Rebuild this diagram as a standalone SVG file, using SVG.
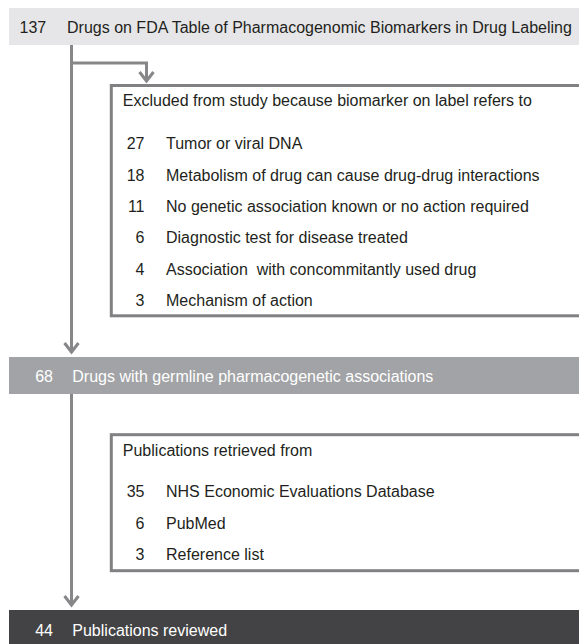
<svg xmlns="http://www.w3.org/2000/svg" width="579" height="644" viewBox="0 0 579 644">
<style>
text{font-family:"Liberation Sans",Arial,sans-serif;font-size:16px;fill:#231f20;white-space:pre}
.w{fill:#ffffff}
.n{text-anchor:end}
.ln{fill:none;stroke:#87878a;stroke-width:3}
.box{fill:#ffffff;stroke:#818184;stroke-width:3}
</style>
<rect width="579" height="644" fill="#ffffff"/>
<g id="connectors">
<line class="ln" x1="71.5" y1="45" x2="71.5" y2="353"/>
<polyline class="ln" points="64.5,343 71.5,352 78.5,343"/>
<path class="ln" d="M71.5,63 H146.5 V81"/>
<polyline class="ln" points="139.5,72 146.5,81 153.5,72"/>
<line class="ln" x1="71.5" y1="394" x2="71.5" y2="606"/>
<polyline class="ln" points="64.5,596 71.5,605 78.5,596"/>
</g>
<g id="n137">
<rect x="9" y="8" width="580" height="37" fill="#e6e6e8"/>
<text x="19.5" y="33">137</text>
<text x="67" y="33">Drugs on FDA Table of Pharmacogenomic Biomarkers in Drug Labeling</text>
</g>
<g id="excluded">
<rect class="box" x="111.3" y="85.5" width="500" height="230.3"/>
<text x="122.8" y="106">Excluded from study because biomarker on label refers to</text>
<text class="n" x="144.5" y="149.3">27</text><text x="166" y="149.3">Tumor or viral DNA</text>
<text class="n" x="144.5" y="180.6">18</text><text x="166" y="180.6">Metabolism of drug can cause drug-drug interactions</text>
<text class="n" x="144.5" y="211.9">11</text><text x="166" y="211.9">No genetic association known or no action required</text>
<text class="n" x="144.5" y="243.2">6</text><text x="166" y="243.2">Diagnostic test for disease treated</text>
<text class="n" x="144.5" y="274.5">4</text><text x="166" y="274.5" xml:space="preserve">Association&#160; with concommitantly used drug</text>
<text class="n" x="144.5" y="305.8">3</text><text x="166" y="305.8">Mechanism of action</text>
</g>
<g id="n68">
<rect x="9" y="357" width="580" height="37" fill="#a2a3a6"/>
<text class="w n" x="53" y="381.5">68</text>
<text class="w" x="72.3" y="381.5">Drugs with germline pharmacogenetic associations</text>
</g>
<g id="publications">
<rect class="box" x="111.3" y="434.7" width="500" height="136"/>
<text x="122.8" y="456">Publications retrieved from</text>
<text class="n" x="144.5" y="497">35</text><text x="166" y="497">NHS Economic Evaluations Database</text>
<text class="n" x="144.5" y="528.5">6</text><text x="166" y="528.5">PubMed</text>
<text class="n" x="144.5" y="560">3</text><text x="166" y="560">Reference list</text>
</g>
<g id="n44">
<rect x="9" y="610" width="580" height="40" fill="#434345"/>
<text class="w n" x="53" y="635.5">44</text>
<text class="w" x="72.3" y="635.5">Publications reviewed</text>
</g>
</svg>
